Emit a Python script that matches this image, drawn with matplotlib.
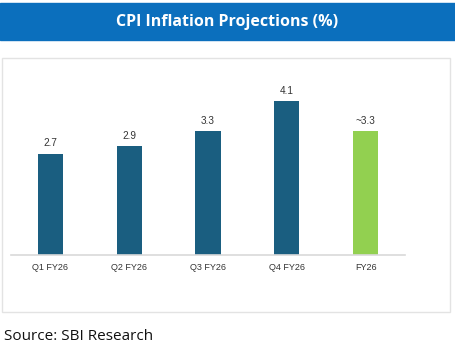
import matplotlib.pyplot as plt
from matplotlib.patches import Rectangle

categories = ["Q1 FY26", "Q2 FY26", "Q3 FY26", "Q4 FY26", "FY26"]
values = [2.7, 2.9, 3.3, 4.1, 3.3]
labels = ["2.7", "2.9", "3.3", "4.1", "~3.3"]
colors = ["#1a5e80", "#1a5e80", "#1a5e80", "#1a5e80", "#92d050"]

W, H = 455, 348
fig = plt.figure(figsize=(W / 100, H / 100), dpi=100)

# title banner
fig.patches.append(Rectangle((0, 1 - 40 / H), 1, 37 / H, transform=fig.transFigure,
                             color="#0b6fbd", zorder=0))
fig.text(0.5, 1 - 21.5 / H, "CPI Inflation Projections (%)", color="white",
         fontsize=11.5, fontweight="bold", family="Open Sans", ha="center", va="center")

# chart frame
fig.patches.append(Rectangle((2 / W, 1 - 312 / H), 448 / W, 254 / H, transform=fig.transFigure,
                             fill=False, edgecolor="#e3e3e3", lw=1))

ax = fig.add_axes([11 / W, 1 - 255 / H, 394 / W, 185 / H])
x = range(len(categories))
ax.bar(x, values, width=0.32, color=colors)
for i, v in enumerate(values):
    ax.annotate(labels[i], (i, v), xytext=(0, 4), textcoords="offset points",
                ha="center", va="bottom", fontsize=7.2, color="#333333", family="Liberation Sans")

ax.set_xlim(-0.5, 4.5)
ax.set_ylim(0, 4.93)
ax.set_xticks(list(x))
ax.set_xticklabels(categories, fontsize=6.5, color="#333333", family="Liberation Sans")
ax.tick_params(axis="x", length=0, pad=6)
ax.set_yticks([])
for s in ["top", "right", "left"]:
    ax.spines[s].set_visible(False)
ax.spines["bottom"].set_color("#d9d9d9")
ax.spines["bottom"].set_linewidth(1.2)

fig.text(4 / W, 1 - 337 / H, "Source: SBI Research", fontsize=11, family="Open Sans",
         color="#111111", ha="left", va="center")

fig.savefig("out.png", dpi=100)
